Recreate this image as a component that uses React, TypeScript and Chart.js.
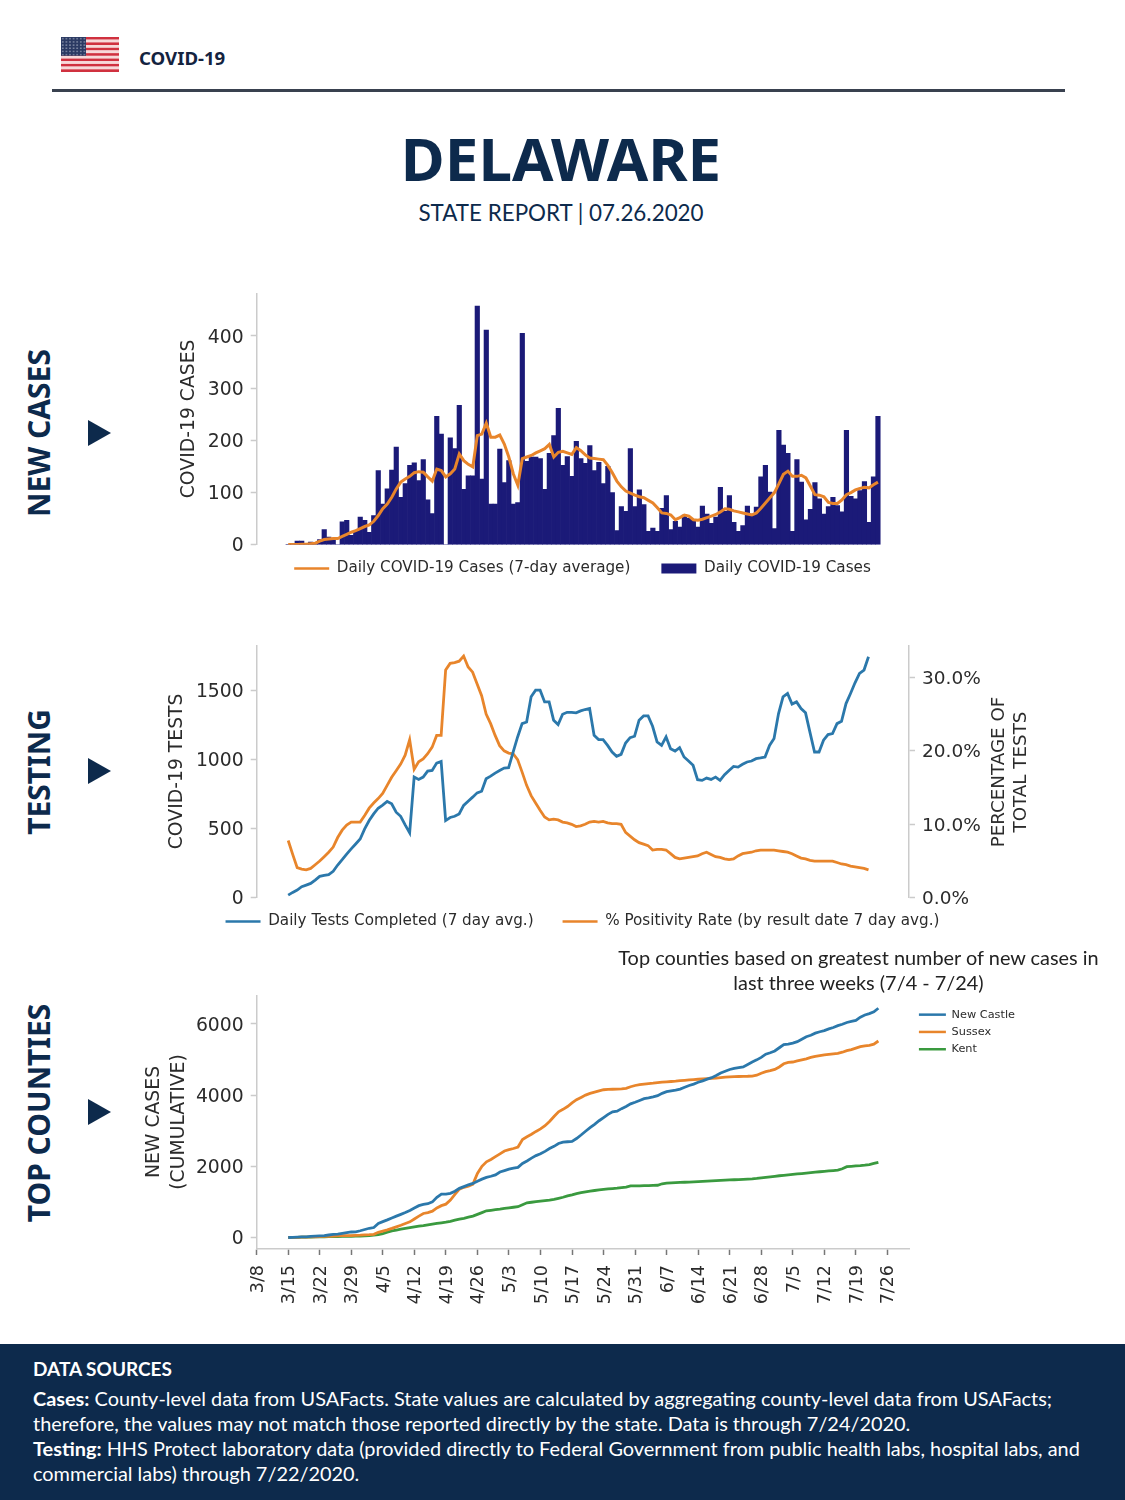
import React, { useEffect, useRef } from "react";
import { Chart, registerables } from "chart.js";

Chart.register(...registerables);

const FIRST_DAY = 7; // 3/15 counted in days from 3/8

const weekLabels = ["3/8","3/15","3/22","3/29","4/5","4/12","4/19","4/26","5/3","5/10","5/17","5/24","5/31","6/7","6/14","6/21","6/28","7/5","7/12","7/19","7/26"];
const casesTicks = [0, 100, 200, 300, 400];
const testsTicks = [0, 500, 1000, 1500];
const rateTicks = [0, 10, 20, 30];
const countyTicks = [0, 2000, 4000, 6000];

const dailyCases = [
  1,1,7,7,2,5,2,10,29,15,
  12,0,44,47,18,27,53,47,24,56,
  142,78,107,143,187,91,117,152,157,123,
  163,86,60,246,212,0,205,184,267,106,
  132,132,457,126,411,78,78,183,119,161,
  78,81,405,160,168,168,165,106,175,209,
  261,152,169,131,198,165,156,190,142,158,
  117,150,100,27,73,64,184,73,105,77,
  26,32,26,70,94,29,45,34,57,51,
  48,34,74,59,41,53,110,64,94,43,
  26,37,74,59,72,130,152,101,31,219,
  191,175,26,163,120,48,68,119,88,59,
  73,91,75,63,219,93,88,104,121,43,
  130,246,
];
const casesAverage = [
  0.5,0.5,0.5,1,1,2,3,7,10,11,
  12,12,16,20,24,27,31,35,38,45,
  56,69,78,91,107,120,126,131,138,140,
  139,130,122,145,142,130,136,145,174,161,
  154,149,209,212,233,206,206,210,193,168,
  136,114,165,168,171,176,180,184,192,168,
  177,179,176,173,186,180,172,166,165,164,
  163,152,138,122,111,103,99,95,92,90,
  85,80,71,61,60,57,48,52,57,55,
  48,47,49,52,55,58,63,69,68,65,
  63,61,59,57,61,70,80,90,100,117,
  135,141,131,131,133,128,112,96,95,92,
  81,79,79,86,96,100,105,108,110,109,
  115,120,
];
const testsCompleted = [
  19,39,56,80,92,104,128,155,162,167,
  191,237,275,316,353,389,425,498,558,606,
  647,669,696,679,618,589,527,469,872,855,
  872,915,920,973,985,558,580,589,606,667,
  698,727,758,770,860,879,901,920,937,940,
  1053,1162,1258,1270,1452,1500,1500,1415,1415,1283,
  1251,1326,1340,1340,1336,1350,1360,1367,1174,1143,
  1143,1101,1053,1022,1036,1118,1157,1167,1283,1314,
  1314,1239,1126,1101,1162,1077,1060,1085,1017,988,
  957,853,848,865,855,872,848,889,920,949,
  944,964,981,988,1005,1010,1017,1101,1150,1331,
  1452,1476,1399,1415,1367,1336,1193,1053,1053,1138,
  1179,1186,1258,1275,1403,1476,1553,1621,1645,1741,
];
const positivityRate = [
  7.8,5.9,4.1,3.9,3.8,4.0,4.5,5.0,5.6,6.2,
  6.9,8.2,9.2,9.9,10.3,10.3,10.3,11.2,12.2,12.9,
  13.5,14.2,15.3,16.4,17.3,18.2,19.4,21.5,17.5,18.5,
  18.9,19.6,20.5,22.1,22.1,31.0,31.9,32.0,32.2,32.9,
  31.4,30.7,29.1,27.5,25.0,23.7,22.1,20.7,20.0,19.7,
  19.6,18.8,17.1,15.3,13.9,12.9,11.9,11.0,10.6,10.7,
  10.6,10.3,10.2,10.0,9.7,9.8,10.0,10.3,10.4,10.3,
  10.4,10.2,10.1,10.1,10.0,8.9,8.4,7.9,7.5,7.3,
  7.1,6.5,6.6,6.6,6.5,6.0,5.5,5.3,5.4,5.5,
  5.6,5.7,6.0,6.2,5.9,5.6,5.5,5.3,5.2,5.3,
  5.7,6.0,6.1,6.2,6.4,6.5,6.5,6.5,6.5,6.4,
  6.3,6.2,6.0,5.7,5.4,5.3,5.1,5.0,5.0,5.0,
  5.0,5.0,4.8,4.6,4.5,4.3,4.2,4.1,4.0,3.8,
];
const newCastle = [
  0,5,10,15,20,30,40,47,55,70,
  85,95,115,135,155,160,190,225,260,280,
  394,445,495,550,600,650,700,760,830,895,
  930,950,1000,1130,1220,1220,1240,1300,1380,1430,
  1480,1520,1580,1640,1690,1720,1760,1840,1880,1920,
  1950,1970,2080,2150,2230,2300,2350,2420,2500,2560,
  2640,2680,2690,2700,2780,2880,2985,3085,3180,3280,
  3370,3460,3530,3550,3620,3680,3754,3800,3850,3900,
  3920,3950,3985,4050,4095,4120,4140,4170,4220,4270,
  4310,4360,4400,4450,4490,4550,4620,4670,4720,4750,
  4770,4790,4860,4930,4990,5060,5150,5190,5240,5330,
  5420,5430,5460,5500,5570,5640,5680,5740,5780,5810,
  5860,5900,5950,5990,6040,6070,6100,6190,6250,6290,
  6340,6440,
];
const sussex = [
  0,2,5,8,10,15,20,25,30,35,
  40,45,50,55,55,60,65,75,80,90,
  145,180,215,255,300,345,395,440,520,600,
  675,700,740,830,895,937,1050,1210,1359,1410,
  1440,1500,1799,2000,2127,2190,2270,2350,2430,2470,
  2500,2540,2755,2830,2900,2980,3050,3140,3260,3400,
  3532,3600,3680,3780,3870,3935,4000,4050,4085,4120,
  4151,4160,4165,4170,4175,4190,4235,4270,4295,4310,
  4325,4335,4350,4362,4372,4382,4392,4405,4415,4425,
  4435,4445,4455,4462,4468,4475,4490,4505,4512,4518,
  4522,4528,4530,4535,4560,4615,4660,4685,4720,4790,
  4880,4920,4930,4960,4990,5020,5060,5090,5110,5130,
  5145,5160,5170,5205,5250,5280,5320,5360,5385,5400,
  5430,5520,
];
const kent = [
  0,3,5,8,10,13,16,19,21,23,
  26,28,30,33,35,38,42,48,55,65,
  80,110,150,187,210,232,255,275,297,318,
  335,355,375,395,413,431,455,485,515,540,
  570,600,650,700,750,765,780,795,815,835,
  850,865,920,974,990,1005,1020,1035,1050,1070,
  1100,1130,1170,1200,1235,1260,1285,1305,1320,1335,
  1350,1365,1375,1385,1400,1415,1448,1450,1453,1456,
  1460,1463,1468,1510,1527,1533,1540,1546,1552,1558,
  1564,1570,1578,1584,1590,1597,1603,1610,1616,1622,
  1628,1634,1640,1648,1660,1675,1690,1705,1720,1735,
  1747,1760,1772,1785,1797,1808,1821,1834,1847,1859,
  1870,1881,1892,1930,1990,2000,2010,2018,2030,2050,
  2080,2111,
];

const footerCases = "County-level data from USAFacts. State values are calculated by aggregating county-level data from USAFacts;";
const footerCases2 = "therefore, the values may not match those reported directly by the state. Data is through 7/24/2020.";
const footerTesting = "HHS Protect laboratory data (provided directly to Federal Government from public health labs, hospital labs, and";
const footerTesting2 = "commercial labs) through 7/22/2020.";

const points = (values: number[]) => values.map((y, i) => ({ x: FIRST_DAY + i, y }));

const NAVY = "#0d2a4c";
const AXIS_GREY = "#cbcbcb";
const TEXT = "#2b2b2b";
const CHART_FONT = "'DejaVu Sans'";
const BODY_FONT = "Lato, 'Noto Sans', sans-serif";

const nudgeLegend = (dx: number, dy: number) => ({
  id: "nudgeLegend",
  afterLayout(chart: any) {
    const l = chart.legend;
    if (!l) return;
    l.left += dx; l.right += dx; l.top += dy; l.bottom += dy;
  },
});

// Moves tick labels along their local y direction, so the digits centre on their tick marks.
const shiftLabels = (scale: any, by: number) => {
  if (scale.__shifted) return;
  scale.__shifted = true;
  const original = scale._computeLabelItems.bind(scale);
  scale._computeLabelItems = (area: any) =>
    original(area).map((item: any) => ({ ...item, textOffset: item.textOffset + by }));
};

const fixedWidth = (w: number, labelShift = 1.8) => (scale: any) => {
  scale.width = w;
  scale.paddingTop = 0;
  scale.paddingBottom = 0;
  shiftLabels(scale, labelShift);
};
const fixedTicks = (values: number[]) => (scale: any) => {
  scale.ticks = values.map((value) => ({ value }));
};

const legendLabels = (size: number, gap: number, lineW: number, boxH: number, rectIndex = -1) => ({
  color: TEXT,
  font: { family: CHART_FONT, size },
  usePointStyle: true,
  pointStyleWidth: lineW,
  boxHeight: boxH,
  padding: gap,
  generateLabels(chart: any) {
    return Chart.defaults.plugins.legend.labels.generateLabels(chart).map((it: any, i: number) => ({
      ...it,
      pointStyle: i === rectIndex ? "rect" : "line",
      lineWidth: i === rectIndex ? 0 : 2.5,
    }));
  },
});

const yAxis = (max: number, values: number[], width: number, title: string | string[], min = 0) => ({
  type: "linear",
  min,
  max,
  afterFit: fixedWidth(width),
  afterBuildTicks: fixedTicks(values),
  border: { display: true, color: AXIS_GREY, width: 1.5 },
  grid: { drawOnChartArea: false, drawTicks: true, tickLength: 6, tickColor: AXIS_GREY, tickWidth: 1.5 },
  ticks: {
    color: TEXT,
    padding: 7,
    font: { family: CHART_FONT, size: 18.8 },
    callback: (v: any) => String(v),
  },
  title: {
    display: true,
    text: title,
    color: TEXT,
    padding: 0,
    font: { family: CHART_FONT, size: 18.8, lineHeight: Array.isArray(title) ? 1.33 : 1.15 },
  },
});

const hiddenX = (max: number) => ({
  type: "linear",
  min: 0,
  max,
  display: false,
  offset: false,
  grid: { display: false },
});

export default function App() {
  const casesRef = useRef<HTMLCanvasElement>(null);
  const testsRef = useRef<HTMLCanvasElement>(null);
  const countiesRef = useRef<HTMLCanvasElement>(null);

  useEffect(() => {
    const cases = new Chart(casesRef.current as any, {
      type: "bar",
      data: {
        datasets: [
          {
            type: "line",
            label: "Daily COVID-19 Cases (7-day average)",
            data: points(casesAverage),
            borderColor: "#e8852b",
            backgroundColor: "#e8852b",
            borderWidth: 3,
            pointRadius: 0,
            tension: 0,
            order: 1,
          },
          {
            type: "bar",
            label: "Daily COVID-19 Cases",
            data: points(dailyCases),
            backgroundColor: "#1b1a78",
            borderWidth: 0,
            barPercentage: 1,
            categoryPercentage: 1,
            order: 2,
          },
        ],
      } as any,
      options: {
        animation: false,
        responsive: false,
        layout: { padding: 0 },
        plugins: {
          legend: { position: "bottom", labels: legendLabels(15.2, 31, 35, 10, 1) as any },
          tooltip: { enabled: false },
        },
        scales: {
          x: hiddenX(164) as any,
          y: yAxis(482, casesTicks, 78.7, "COVID-19 CASES") as any,
        },
      },
      plugins: [nudgeLegend(-4, -15)],
    });

    const tests = new Chart(testsRef.current as any, {
      type: "line",
      data: {
        datasets: [
          {
            label: "Daily Tests Completed (7 day avg.)",
            data: points(testsCompleted),
            borderColor: "#2b78ab",
            backgroundColor: "#2b78ab",
            borderWidth: 2.8,
            pointRadius: 0,
            tension: 0,
            yAxisID: "y",
          },
          {
            label: "% Positivity Rate (by result date 7 day avg.)",
            data: points(positivityRate),
            borderColor: "#e8852b",
            backgroundColor: "#e8852b",
            borderWidth: 2.8,
            pointRadius: 0,
            tension: 0,
            yAxisID: "y2",
          },
        ],
      } as any,
      options: {
        animation: false,
        responsive: false,
        layout: { padding: 0 },
        plugins: {
          legend: { position: "bottom", labels: legendLabels(15.2, 29, 35, 10) as any },
          tooltip: { enabled: false },
        },
        scales: {
          x: hiddenX(145) as any,
          y: yAxis(1826, testsTicks, 90.7, "COVID-19 TESTS") as any,
          y2: {
            type: "linear",
            position: "right",
            min: 0,
            max: 34.4,
            afterFit: fixedWidth(100),
            afterBuildTicks: fixedTicks(rateTicks),
            border: { display: true, color: AXIS_GREY, width: 1.5 },
            grid: { drawOnChartArea: false, drawTicks: true, tickLength: 6, tickColor: AXIS_GREY, tickWidth: 1.5 },
            ticks: {
              color: TEXT,
              padding: 7,
              font: { family: CHART_FONT, size: 18.5 },
              callback: (v: any) => Number(v).toFixed(1) + "%",
            },
          } as any,
        },
      },
      plugins: [nudgeLegend(-5, -13)],
    });

    const counties = new Chart(countiesRef.current as any, {
      type: "line",
      data: {
        datasets: [
          { label: "New Castle", data: points(newCastle), borderColor: "#2b78ab", backgroundColor: "#2b78ab", borderWidth: 2.8, pointRadius: 0, tension: 0 },
          { label: "Sussex", data: points(sussex), borderColor: "#e8852b", backgroundColor: "#e8852b", borderWidth: 2.8, pointRadius: 0, tension: 0 },
          { label: "Kent", data: points(kent), borderColor: "#3a9a3f", backgroundColor: "#3a9a3f", borderWidth: 2.8, pointRadius: 0, tension: 0 },
        ],
      } as any,
      options: {
        animation: false,
        responsive: false,
        layout: { padding: 0 },
        plugins: {
          legend: { position: "right", align: "start", labels: legendLabels(11.3, 6, 27, 8) as any },
          tooltip: { enabled: false },
        },
        scales: {
          x: {
            type: "linear",
            min: 0,
            max: 145,
            offset: false,
            afterFit: (scale: any) => {
              scale.height = 60;
              scale.paddingLeft = 0;
              scale.paddingRight = 0;
              shiftLabels(scale, 1.5);
            },
            border: { display: true, color: AXIS_GREY, width: 1.5 },
            grid: { drawOnChartArea: false, drawTicks: true, tickLength: 6, tickColor: "#777", tickWidth: 1.5 },
            ticks: {
              stepSize: 7,
              autoSkip: false,
              includeBounds: false,
              maxRotation: 90,
              minRotation: 90,
              color: TEXT,
              padding: 10,
              font: { family: CHART_FONT, size: 17.5 },
              callback: (v: any) => weekLabels[Number(v) / 7] ?? "",
            },
          } as any,
          y: yAxis(6812, countyTicks, 114.7, ["NEW CASES", "(CUMULATIVE)"], -323) as any,
        },
      },
      plugins: [nudgeLegend(3, 8)],
    });

    return () => {
      cases.destroy();
      tests.destroy();
      counties.destroy();
    };
  }, []);

  const abs = (style: React.CSSProperties): React.CSSProperties => ({ position: "absolute", ...style });
  const rotated = (text: string, cy: number) => (
    <div
      style={abs({
        left: 38, top: cy, width: 0, height: 0,
        display: "flex", alignItems: "center", justifyContent: "center",
        transform: "rotate(-90deg)", whiteSpace: "nowrap",
        fontFamily: "'Noto Sans', sans-serif", fontWeight: 700, fontSize: 30, color: NAVY,
      })}
    >
      {text}
    </div>
  );
  const triangle = (cy: number) => (
    <div
      style={abs({
        left: 88, top: cy - 13, width: 0, height: 0,
        borderTop: "13px solid transparent", borderBottom: "13px solid transparent",
        borderLeft: `23px solid ${NAVY}`,
      })}
    />
  );
  const stripes = [0, 1, 2, 3, 4, 5, 6, 7, 8, 9, 10, 11, 12];

  return (
    <div
      style={abs({
        left: 0, top: 0, width: 1125, height: 1500, background: "#fff", overflow: "hidden",
        fontFamily: BODY_FONT,
      })}
    >
      <svg style={abs({ left: 61, top: 37 })} width="58" height="35" viewBox="0 0 58 35">
        <defs>
          <pattern id="stars" width="3.6" height="3.2" patternUnits="userSpaceOnUse">
            <circle cx="1.8" cy="1.6" r="0.7" fill="#b9c0d0" />
          </pattern>
        </defs>
        {stripes.map((i) => (
          <rect key={i} x="0" y={(i * 35) / 13} width="58" height={35 / 13} fill={i % 2 === 0 ? "#d0313f" : "#f7d9d9"} />
        ))}
        <rect x="0" y="0" width="25" height="18.8" fill="#2b3a63" />
        <rect x="0" y="0" width="25" height="18.8" fill="url(#stars)" />
      </svg>
      <div style={abs({ left: 139, top: 44, fontFamily: "'Noto Sans', sans-serif", fontWeight: 700, fontSize: 18.6, lineHeight: "28px", color: "#14233f" })}>COVID-19</div>
      <div style={abs({ left: 52, top: 89, width: 1013, height: 3, background: "#39414f" })} />
      <div style={abs({ left: 0, width: 1122, top: 118, textAlign: "center", fontFamily: "'Noto Sans', sans-serif", fontWeight: 700, fontSize: 60, lineHeight: "80px", color: NAVY })}>DELAWARE</div>
      <div style={abs({ left: 0, width: 1122, top: 197, textAlign: "center", fontSize: 22.4, lineHeight: "32px", color: NAVY })}>STATE REPORT | 07.26.2020</div>

      {rotated("NEW CASES", 433)}
      {rotated("TESTING", 772)}
      {rotated("TOP COUNTIES", 1113)}
      {triangle(433)}
      {triangle(771)}
      {triangle(1112)}

      <canvas ref={casesRef} width={817} height={308} style={abs({ left: 178, top: 293, width: 817, height: 308 })} />
      <canvas ref={testsRef} width={843} height={307} style={abs({ left: 166, top: 645, width: 843, height: 307 })} />
      <canvas ref={countiesRef} width={880} height={314} style={abs({ left: 142, top: 995, width: 880, height: 314 })} />

      <div
        style={abs({
          left: 986, top: 772, width: 0, height: 0, display: "flex", alignItems: "center", justifyContent: "center",
          transform: "translateX(23px) rotate(-90deg)", whiteSpace: "nowrap", textAlign: "center",
          fontFamily: CHART_FONT, fontSize: 18.3, lineHeight: "22px", color: TEXT,
        })}
      >
        <div>PERCENTAGE OF<br />TOTAL TESTS</div>
      </div>

      <div style={abs({ left: 560, width: 597, top: 945, textAlign: "center", fontSize: 19.9, lineHeight: "25px", color: "#222", whiteSpace: "nowrap" })}>
        Top counties based on greatest number of new cases in<br />last three weeks (7/4 - 7/24)
      </div>

      <div style={abs({ left: 0, top: 1344, width: 1125, height: 156, background: NAVY })} />
      <div style={abs({ left: 33, top: 1356, color: "#fff", fontSize: 19.9, lineHeight: "25px", whiteSpace: "nowrap" })}>
        <div style={{ fontWeight: 700, fontSize: 19 }}>DATA SOURCES</div>
        <div style={{ marginTop: 5 }}><b>Cases:</b> {footerCases}</div>
        <div>{footerCases2}</div>
        <div><b>Testing:</b> {footerTesting}</div>
        <div>{footerTesting2}</div>
      </div>
    </div>
  );
}
